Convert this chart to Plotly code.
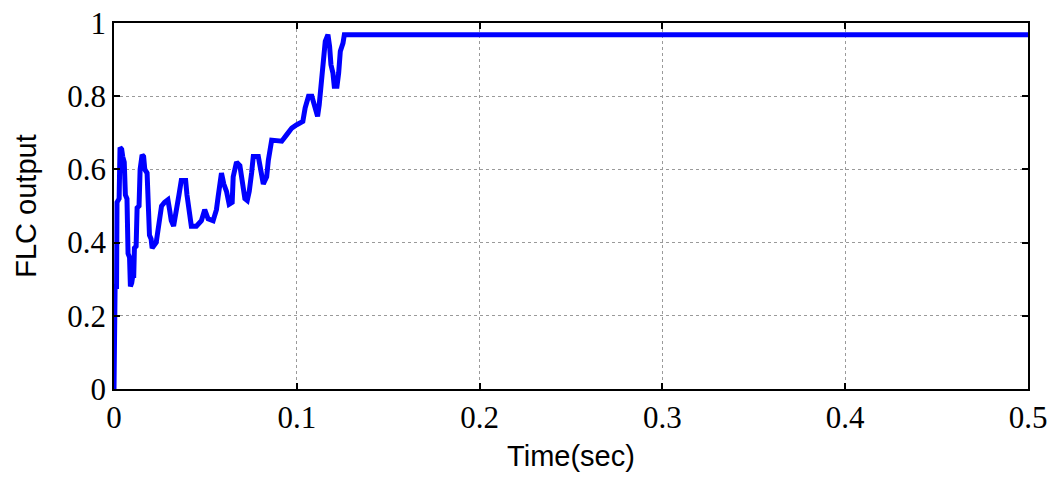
import plotly.graph_objects as go

# Time (sec) and FLC output values
time_s = [0.0, 0.0, 0.00037, 0.0006, 0.00073, 0.0014, 0.00165, 0.0028, 0.0033,
          0.0042, 0.00476, 0.0056, 0.00623, 0.0071, 0.00769, 0.0085, 0.00897,
          0.0097, 0.01026, 0.0108, 0.01117, 0.0121, 0.01264, 0.0137, 0.01429,
          0.01538, 0.0162, 0.01685, 0.0181, 0.0185, 0.0192, 0.01941, 0.0203,
          0.02088, 0.02308, 0.02454, 0.02601, 0.02766, 0.02949, 0.0304, 0.03132,
          0.0326, 0.03407, 0.03553, 0.03681, 0.03919, 0.03993, 0.04103, 0.04231,
          0.04505, 0.0478, 0.04963, 0.05147, 0.05421, 0.05604, 0.05696, 0.05879,
          0.06007, 0.06154, 0.063, 0.06465, 0.0652, 0.06703, 0.06886, 0.07033,
          0.07161, 0.07289, 0.07399, 0.07527, 0.07619, 0.07894, 0.08022, 0.08168,
          0.08352, 0.08443, 0.08626, 0.08901, 0.09176, 0.09451, 0.09725, 0.1,
          0.1033, 0.10458, 0.10641, 0.10824, 0.11007, 0.11136, 0.11227, 0.11319,
          0.11429, 0.11557, 0.11703, 0.11795, 0.11868, 0.11978, 0.12051, 0.12198,
          0.12289, 0.12381, 0.12527, 0.12601, 0.5]
flc_output = [0.0, 0.135, 0.135, 0.28, 0.28, 0.28, 0.51, 0.52, 0.66,
              0.655, 0.635, 0.62, 0.53, 0.52, 0.37, 0.36, 0.28,
              0.29, 0.31, 0.31, 0.385, 0.39, 0.495, 0.5, 0.6,
              0.64, 0.635, 0.6, 0.59, 0.53, 0.52, 0.42, 0.41,
              0.385, 0.4, 0.46, 0.5, 0.51, 0.517, 0.49, 0.46,
              0.445, 0.48, 0.53, 0.57, 0.57, 0.53, 0.48, 0.445,
              0.445, 0.46, 0.49, 0.465, 0.46, 0.49, 0.525, 0.59,
              0.56, 0.54, 0.505, 0.51, 0.58, 0.62, 0.61, 0.57,
              0.52, 0.515, 0.54, 0.59, 0.635, 0.635, 0.59, 0.56,
              0.58, 0.625, 0.68, 0.677, 0.677, 0.695, 0.713, 0.722,
              0.731, 0.768, 0.8, 0.8, 0.763, 0.745, 0.777, 0.827,
              0.895, 0.95, 0.968, 0.936, 0.886, 0.863, 0.827, 0.827,
              0.863, 0.923, 0.945, 0.968, 0.968]

x_ticks = [0, 0.1, 0.2, 0.3, 0.4, 0.5]
x_labels = ["0", "0.1", "0.2", "0.3", "0.4", "0.5"]
y_ticks = [0, 0.2, 0.4, 0.6, 0.8, 1]
y_labels = ["0", "0.2", "0.4", "0.6", "0.8", "1"]

fig = go.Figure()
fig.add_trace(go.Scatter(x=time_s, y=flc_output, mode="lines",
                         line=dict(color="#0000FF", width=5),
                         showlegend=False))

tick_font = dict(family="Liberation Serif, Times New Roman, serif", size=31, color="black")
title_font = dict(family="Liberation Sans, Arial, sans-serif", size=29, color="black")

fig.update_layout(
    width=1054, height=480,
    margin=dict(l=114, r=26, t=23, b=91, autoexpand=False),
    paper_bgcolor="white", plot_bgcolor="white",
    xaxis=dict(range=[0, 0.5], tickvals=x_ticks, ticktext=x_labels, automargin=False,
               showline=True, linecolor="black", linewidth=1.5, mirror="ticks",
               ticks="inside", ticklen=6, tickwidth=1.5, tickcolor="black",
               showgrid=True, gridcolor="#9a9a9a", griddash="dot", gridwidth=1,
               zeroline=False, tickfont=tick_font,
               title=dict(text="Time(sec)", font=title_font, standoff=12)),
    yaxis=dict(range=[0, 1], tickvals=y_ticks, ticktext=y_labels, automargin=False,
               showline=True, linecolor="black", linewidth=1.5, mirror="ticks",
               ticks="inside", ticklen=6, tickwidth=1.5, tickcolor="black",
               showgrid=True, gridcolor="#9a9a9a", griddash="dot", gridwidth=1,
               zeroline=False, tickfont=tick_font,
               title=dict(text="FLC output", font=title_font, standoff=22)),
)

fig.write_html("out.html")
